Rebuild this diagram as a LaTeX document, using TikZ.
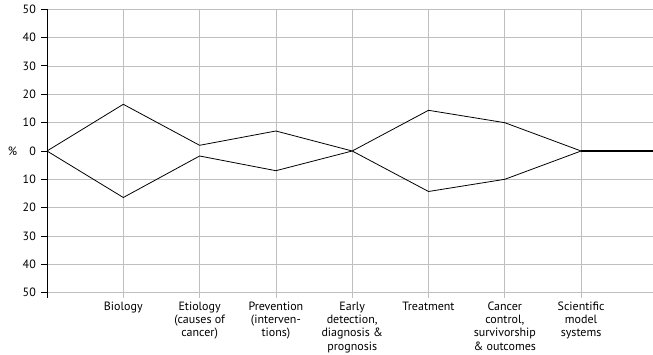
\documentclass[tikz,border=0pt]{standalone}
\usepackage{fontspec}
\setmainfont{PT Sans}

\begin{document}
\begin{tikzpicture}[x=1pt,y=-1pt,
    gridline/.style={color=black!25,line width=0.8pt},
    axisline/.style={color=black,line width=0.9pt},
    series/.style={line width=0.8pt,line join=miter},
    ticklab/.style={anchor=east,inner sep=0pt,font=\fontsize{12}{13}\selectfont},
    catlab/.style={anchor=north,align=center,inner sep=0pt,font=\fontsize{12}{13.3}\selectfont}]
    \useasboundingbox (0,0) rectangle (653,355);
    % grid
    \draw[gridline] (47,9.25) -- (653,9.25);
    \draw[gridline] (47,37.6) -- (653,37.6);
    \draw[gridline] (47,65.95) -- (653,65.95);
    \draw[gridline] (47,94.3) -- (653,94.3);
    \draw[gridline] (47,122.65) -- (653,122.65);
    \draw[gridline] (47,179.35) -- (653,179.35);
    \draw[gridline] (47,207.7) -- (653,207.7);
    \draw[gridline] (47,236.05) -- (653,236.05);
    \draw[gridline] (47,264.4) -- (653,264.4);
    \draw[gridline] (47,292.75) -- (653,292.75);
    \draw[gridline] (123.3,9.25) -- (123.3,298);
    \draw[gridline] (199.6,9.25) -- (199.6,298);
    \draw[gridline] (275.9,9.25) -- (275.9,298);
    \draw[gridline] (352.2,9.25) -- (352.2,298);
    \draw[gridline] (428.5,9.25) -- (428.5,298);
    \draw[gridline] (504.8,9.25) -- (504.8,298);
    \draw[gridline] (581.1,9.25) -- (581.1,298);
    % axis
    \draw[axisline] (47,9.25) -- (47,298);
    \draw[axisline] (41,9.25) -- (47,9.25) (41,37.6) -- (47,37.6) (41,65.95) -- (47,65.95)
        (41,94.3) -- (47,94.3) (41,122.65) -- (47,122.65) (41,151) -- (47,151)
        (41,179.35) -- (47,179.35) (41,207.7) -- (47,207.7) (41,236.05) -- (47,236.05)
        (41,264.4) -- (47,264.4) (41,292.75) -- (47,292.75);
    \node[ticklab](t50) at (36,9.25) {50};
    \node[ticklab](t40) at (36,37.6) {40};
    \node[ticklab](t30) at (36,65.95) {30};
    \node[ticklab](t20) at (36,94.3) {20};
    \node[ticklab](t10) at (36,122.65) {10};
    \node[ticklab](t0) at (36,151) {0};
    \node[ticklab](b10) at (36,179.35) {10};
    \node[ticklab](b20) at (36,207.7) {20};
    \node[ticklab](b30) at (36,236.05) {30};
    \node[ticklab](b40) at (36,264.4) {40};
    \node[ticklab](b50) at (36,292.75) {50};
    \node[ticklab,anchor=center](pct) at (12.5,151) {\%};
    % categories
    \node[catlab](bio) at (123.3,301.5) {Biology};
    \node[catlab](etio) at (199.6,301.5) {Etiology\\(causes of\\cancer)};
    \node[catlab](prev) at (275.9,301.5) {Prevention\\(interven-\\tions)};
    \node[catlab](early) at (352.2,301.5) {Early\\detection,\\diagnosis \&\\prognosis};
    \node[catlab](treat) at (428.5,301.5) {Treatment};
    \node[catlab](ctrl) at (504.8,301.5) {Cancer\\control,\\survivorship\\\& outcomes};
    \node[catlab](sci) at (581.1,301.5) {Scientific\\model\\systems};
    % data points
    \coordinate(o) at (47,151);
    \coordinate(u1) at (123.3,104.3);
    \coordinate(u2) at (199.6,145.3);
    \coordinate(u3) at (275.9,131);
    \coordinate(m4) at (352.2,151);
    \coordinate(u5) at (428.5,110.3);
    \coordinate(u6) at (504.8,122.7);
    \coordinate(m7) at (581.1,151);
    \coordinate(l1) at (123.3,197.5);
    \coordinate(l2) at (199.6,156);
    \coordinate(l3) at (275.9,170.7);
    \coordinate(l5) at (428.5,191.5);
    \coordinate(l6) at (504.8,179.3);
    \coordinate(z) at (653,151);
    \draw[series] (o) -- (u1) -- (u2) -- (u3) -- (m4) -- (u5) -- (u6) -- (m7);
    \draw[series] (o) -- (l1) -- (l2) -- (l3) -- (m4) -- (l5) -- (l6) -- (m7);
    \draw[line width=1.8pt] (m7) -- (z);
\end{tikzpicture}
\end{document}
